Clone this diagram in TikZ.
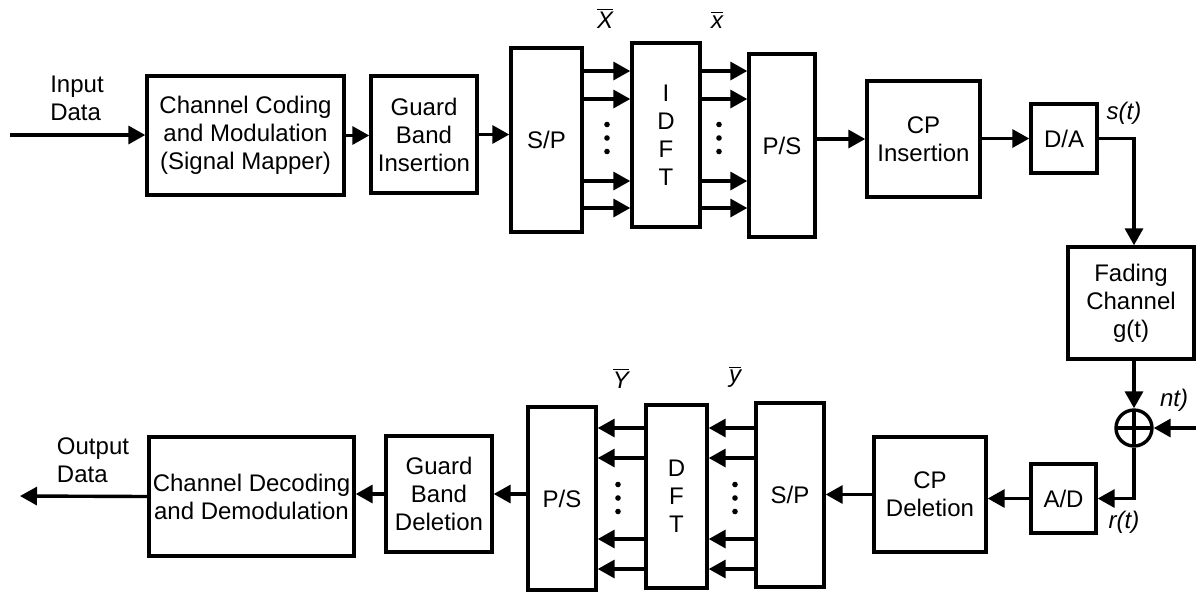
\documentclass[tikz,border=0pt]{standalone}
\usepackage{fontspec}
\setmainfont{Liberation Sans}
\usepackage{tikz}
\usetikzlibrary{arrows.meta,positioning}

\begin{document}
\begin{tikzpicture}[
  x=0.5pt,y=-0.5pt,
  font=\fontsize{12}{14}\selectfont,
  blk/.style={draw,line width=1.7pt,align=center,inner sep=1pt},
  a/.style={-{Triangle[length=8.5pt,width=9pt]},line width=1.7pt},
  lbl/.style={font=\fontsize{12}{14}\selectfont\itshape},
  sum/.style={circle,draw,line width=1.7pt,minimum size=18pt,inner sep=0pt,
    path picture={\draw[line width=1.7pt]
      (path picture bounding box.north) -- (path picture bounding box.south)
      (path picture bounding box.west) -- (path picture bounding box.east);}}
]
  \useasboundingbox (0,0) rectangle (1196,591);
  % transmitter
  \node[blk,minimum width=98.5pt,minimum height=59.5pt] (code) at (245.5,135.5) {Channel Coding\\and Modulation\\(Signal Mapper)};
  \node[blk,minimum width=53pt,minimum height=58.5pt] (gbi) at (424,134.5) {Guard\\Band\\Insertion};
  \node[blk,minimum width=35.5pt,minimum height=92pt] (sp1) at (546.5,140) {S/P};
  \node[blk,minimum width=34pt,minimum height=92pt] (idft) at (666,135) {I\\D\\F\\T};
  \node[blk,minimum width=33pt,minimum height=91.5pt] (ps1) at (782,145.5) {P/S};
  \node[blk,minimum width=56.5pt,minimum height=58pt] (cpi) at (923.5,139) {CP\\Insertion};
  \node[blk,minimum width=33pt,minimum height=34.5pt] (da) at (1064,138.5) {D/A};
  % channel
  \node[blk,minimum width=63pt,minimum height=56pt] (fade) at (1131,303) {Fading\\Channel\\g(t)};
  \node[sum] (add) at (1134,428) {};
  % receiver
  \node[blk,minimum width=32.5pt,minimum height=34.5pt] (ad) at (1063.5,498.5) {A/D};
  \node[blk,minimum width=56pt,minimum height=57.5pt] (cpd) at (930,494.5) {CP\\Deletion};
  \node[blk,minimum width=34pt,minimum height=92pt] (sp2) at (790,495) {S/P};
  \node[blk,minimum width=30.5pt,minimum height=91.5pt] (dft) at (676.5,496.5) {D\\F\\T};
  \node[blk,minimum width=34pt,minimum height=91.5pt] (ps2) at (562,498.5) {P/S};
  \node[blk,minimum width=53pt,minimum height=58pt] (gbd) at (439,494) {Guard\\Band\\Deletion};
  \node[blk,minimum width=102.5pt,minimum height=59.5pt] (dec) at (251.5,496.5) {Channel Decoding\\and Demodulation};

  \node[align=left] (inlbl) at (77,98) {Input\\Data};
  \node[align=left] (outlbl) at (93,460) {Output\\Data};
  \node (Xb) at (605,18) {$\overline{\textit{X}}$};
  \node (xb) at (717,20) {$\overline{\textit{x}}$};
  \node (Yb) at (621,378) {$\overline{\textit{Y}}$};
  \node (yb) at (735,377) {$\overline{\textit{y}}$};
  \node[lbl] (st) at (1124,113) {s(t)};
  \node[lbl] (nt) at (1174,400) {nt)};
  \node[lbl] (rt) at (1124,522) {r(t)};

  \coordinate (in) at (10,135);
  \coordinate (out) at (20,496);
  \coordinate (noise) at (1196,428);

  \draw[a] (in) -- (in -| code.west);
  \draw[a] (code.east) -- (code.east -| gbi.west);
  \draw[a] (gbi.east) -- (gbi.east -| sp1.west);
  \foreach \y in {71,99,181,208}
    {\draw[a] (sp1.east |- 0,\y) -- (idft.west |- 0,\y);
     \draw[a] (idft.east |- 0,\y) -- (ps1.west |- 0,\y);}
  \draw[a] (ps1.east |- cpi.west) -- (cpi.west);
  \draw[a] (cpi.east |- da.west) -- (da.west);
  \draw[a] (da.east) -| (add |- fade.north);
  \draw[a] (fade.south -| add) -- (add.north);
  \draw[a] (noise) -- (add.east);
  \draw[a] (add.south) |- (ad.east);
  \draw[a] (ad.west) -- (ad.west -| cpd.east);
  \draw[a] (cpd.west) -- (cpd.west -| sp2.east);
  \foreach \y in {428,458,539,569}
    {\draw[a] (sp2.west |- 0,\y) -- (dft.east |- 0,\y);
     \draw[a] (dft.west |- 0,\y) -- (ps2.east |- 0,\y);}
  \draw[a] (ps2.west |- gbd.east) -- (gbd.east);
  \draw[a] (gbd.west) -- (gbd.west -| dec.east);
  \draw[a] (dec.west) -- (out);

  % vertical dots between the parallel lines
  \foreach \x/\yy in {607/138,719/138,618/498,735/498}
    \foreach \d in {-13.5,0,13.5}
      \fill (\x,\yy+\d) circle (1.4pt);
\end{tikzpicture}
\end{document}
